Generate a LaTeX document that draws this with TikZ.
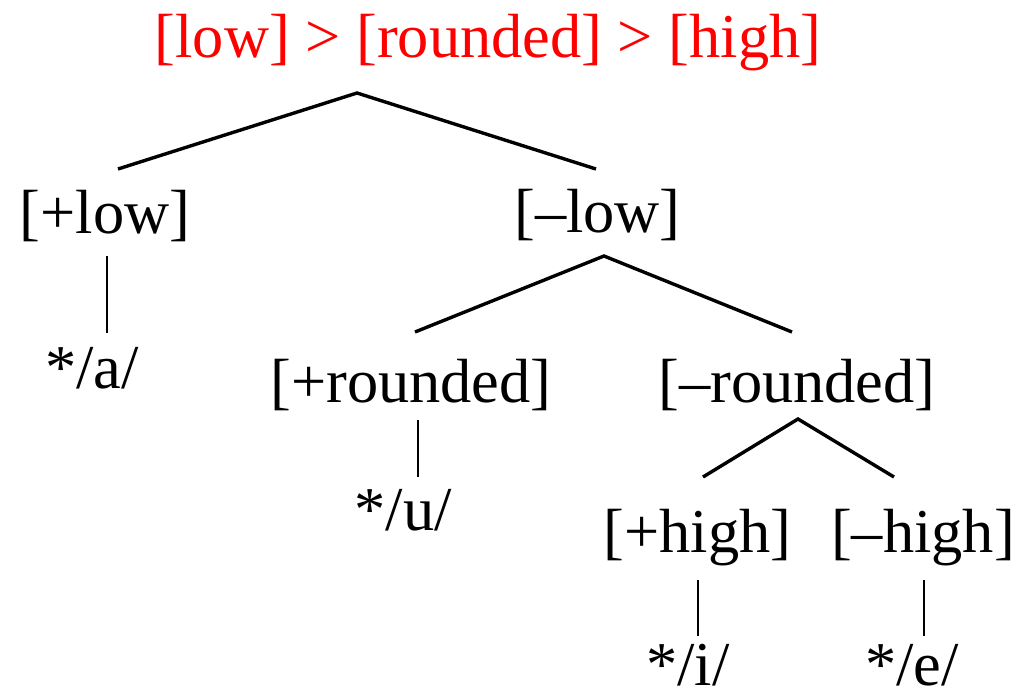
\documentclass[tikz,border=0pt]{standalone}
\usepackage{fontspec}
\setmainfont{Liberation Serif}
\usepackage{tikz}

\begin{document}
\begin{tikzpicture}[
  x=0.5pt, y=-0.5pt,
  font=\fontsize{31.2pt}{36pt}\selectfont,
  feat/.style={inner sep=0pt, anchor=base},
  branch/.style={line width=1.7pt},
  stem/.style={line width=0.8pt}
]
\useasboundingbox (0,0) rectangle (1034,696);

\node[feat, text=red] (order) at (488,57) {[low] > [rounded] > [high]};
\coordinate (root) at (357,93);

\node[feat] (plow) at (105,233) {[+low]};
\node[feat] (mlow) at (597.5,232) {[–low]};
\node[feat] (sa) at (92,388) {*/a/};
\node[feat] (pround) at (411,402) {[+rounded]};
\node[feat] (mround) at (797,402) {[–rounded]};
\node[feat] (su) at (403,530) {*/u/};
\node[feat] (phigh) at (697.5,552) {[+high]};
\node[feat] (mhigh) at (923,552) {[–high]};
\node[feat] (si) at (688,685) {*/i/};
\node[feat] (se) at (912,685) {*/e/};

\draw[branch] ([shift={(13,-64)}]plow.base) -- (root) -- ([shift={(-1.5,-63)}]mlow.base);
\draw[branch] ([shift={(4,-70)}]pround.base) -- ([shift={(6.5,24)}]mlow.base) -- ([shift={(-5,-70)}]mround.base);
\draw[branch] ([shift={(5.5,-75)}]phigh.base) -- ([shift={(1,17)}]mround.base) -- ([shift={(-29,-75)}]mhigh.base);

\draw[stem] ([shift={(2,23)}]plow.base) -- ([shift={(15,-55)}]sa.base);
\draw[stem] ([shift={(7,18)}]pround.base) -- ([shift={(15,-53)}]su.base);
\draw[stem] ([shift={(0.5,28)}]phigh.base) -- ([shift={(10,-49)}]si.base);
\draw[stem] ([shift={(1,28)}]mhigh.base) -- ([shift={(12,-49)}]se.base);
\end{tikzpicture}
\end{document}
